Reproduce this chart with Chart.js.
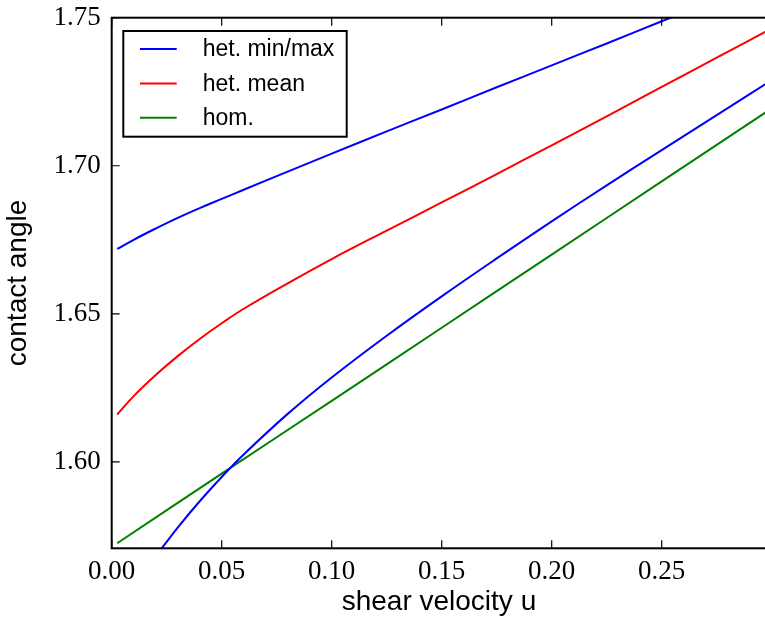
<!DOCTYPE html>
<html><head><meta charset="utf-8">
<script src="https://cdn.jsdelivr.net/npm/chart.js@4/dist/chart.umd.min.js"></script>
<style>html,body{margin:0;padding:0;overflow:hidden;background:#fff;width:765px;height:619px}
canvas{display:block}</style></head>
<body><canvas id="c" width="800" height="619"></canvas>
<script>
// ---- data ----
const xTicks = [0.00, 0.05, 0.10, 0.15, 0.20, 0.25];
const yTicks = [1.60, 1.65, 1.70, 1.75];
const xRange = [0, 0.2975];
const yRange = [1.5708, 1.75];

const maxU     = [0.0025, 0.01, 0.02, 0.03, 0.04, 0.05, 0.06, 0.08, 0.10, 0.125, 0.15, 0.175, 0.20, 0.225, 0.25, 0.275];
const maxTheta = [1.6719, 1.6750, 1.6788, 1.6824, 1.6857, 1.6888, 1.6919, 1.6980, 1.7041, 1.7116, 1.7190, 1.7265, 1.7339, 1.7413, 1.7488, 1.7562];

const minU     = [0.02, 0.03, 0.04, 0.05, 0.06, 0.08, 0.10, 0.125, 0.15, 0.175, 0.20, 0.225, 0.25, 0.275, 0.30];
const minTheta = [1.5681, 1.5778, 1.5867, 1.5949, 1.6025, 1.6162, 1.6285, 1.6426, 1.6559, 1.6687, 1.6812, 1.6934, 1.7053, 1.7171, 1.7289];

const meanU     = [0.0025, 0.01, 0.02, 0.03, 0.04, 0.05, 0.06, 0.08, 0.10, 0.125, 0.15, 0.175, 0.20, 0.225, 0.25, 0.275, 0.30];
const meanTheta = [1.6160, 1.6222, 1.6293, 1.6357, 1.6415, 1.6468, 1.6517, 1.6603, 1.6685, 1.6781, 1.6876, 1.6972, 1.7069, 1.7167, 1.7266, 1.7365, 1.7464];

const homU     = [0.0025, 0.05, 0.10, 0.15, 0.20, 0.25, 0.30];
const homTheta = [1.5725, 1.5960, 1.6206, 1.6453, 1.6700, 1.6947, 1.7194];

const legendLabels = ['het. min/max', 'het. mean', 'hom.'];
const legendColors = ['#0000ff', '#ff0000', '#008000'];
const xTitle = 'shear velocity u';
const yTitle = 'contact angle';

// ---- build ----
const pts = (xs, ys) => xs.map((x, i) => ({x: x, y: ys[i]}));
const ds = (xs, ys, color) => ({
  data: pts(xs, ys), borderColor: color, backgroundColor: color,
  borderWidth: 2, pointRadius: 0, showLine: true, fill: false,
  tension: 0.4
});

const framePlugin = {
  id: 'frame',
  afterDraw(chart) {
    const ctx = chart.ctx, a = chart.chartArea;
    const xs = chart.scales.x, ys = chart.scales.y;
    ctx.save();
    ctx.strokeStyle = '#000';
    ctx.lineWidth = 2;
    ctx.strokeRect(a.left, a.top, a.right - a.left, a.bottom - a.top);
    ctx.lineWidth = 1.2;
    const tl = 8;
    ctx.beginPath();
    xTicks.forEach(v => {
      const p = xs.getPixelForValue(v);
      ctx.moveTo(p, a.bottom); ctx.lineTo(p, a.bottom - tl);
      ctx.moveTo(p, a.top); ctx.lineTo(p, a.top + tl);
    });
    yTicks.forEach(v => {
      const p = ys.getPixelForValue(v);
      ctx.moveTo(a.left, p); ctx.lineTo(a.left + tl, p);
    });
    ctx.stroke();
    // legend
    const bx = a.left + 11.6, by = a.top + 13.3, bw = 223.4, bh = 105.7;
    ctx.fillStyle = '#fff';
    ctx.fillRect(bx, by, bw, bh);
    ctx.lineWidth = 2;
    ctx.strokeStyle = '#000';
    ctx.strokeRect(bx, by, bw, bh);
    ctx.font = '23px "Liberation Sans", Arial, sans-serif';
    ctx.textBaseline = 'middle';
    ctx.textAlign = 'left';
    legendLabels.forEach((lab, i) => {
      const yy = by + 18 + i * 34.4;
      ctx.strokeStyle = legendColors[i];
      ctx.lineWidth = 2;
      ctx.beginPath(); ctx.moveTo(bx + 16.7, yy); ctx.lineTo(bx + 53.4, yy); ctx.stroke();
      ctx.fillStyle = '#000';
      ctx.fillText(lab, bx + 79.4, yy + 1);
    });
    ctx.restore();
  }
};

new Chart(document.getElementById('c'), {
  type: 'scatter',
  data: { datasets: [
    ds(maxU, maxTheta, legendColors[0]),
    ds(minU, minTheta, legendColors[0]),
    ds(meanU, meanTheta, legendColors[1]),
    ds(homU, homTheta, legendColors[2])
  ]},
  options: {
    responsive: false, animation: false, devicePixelRatio: 1,
    layout: { padding: { top: 17.7, right: 33.8, left: 0, bottom: 0 } },
    plugins: { legend: { display: false }, tooltip: { enabled: false } },
    scales: {
      x: {
        type: 'linear', min: xRange[0], max: xRange[1],
        afterBuildTicks: s => { s.ticks = xTicks.map(v => ({value: v})); },
        afterFit: s => { s.height = 70.7; s.paddingLeft = 0; s.paddingRight = 0; },
        grid: { display: false, drawTicks: false },
        border: { display: false },
        ticks: { autoSkip: false, maxRotation: 0, padding: 7, color: '#000',
          font: { family: '"Liberation Serif", "Times New Roman", serif', size: 27 },
          callback: v => Number(v).toFixed(2) },
        title: { display: true, text: xTitle, color: '#000', padding: {top: 0, bottom: -0.5},
          font: { family: '"Liberation Sans", Arial, sans-serif', size: 28 } }
      },
      y: {
        type: 'linear', min: yRange[0], max: yRange[1],
        afterBuildTicks: s => { s.ticks = yTicks.map(v => ({value: v})); },
        afterFit: s => { s.width = 111.7; s.paddingTop = 0; s.paddingBottom = 0; },
        grid: { display: false, drawTicks: false },
        border: { display: false },
        ticks: { autoSkip: false, padding: 11, color: '#000',
          font: { family: '"Liberation Serif", "Times New Roman", serif', size: 27 },
          callback: v => Number(v).toFixed(2) },
        title: { display: true, text: yTitle, color: '#000', padding: {top: 1.5, bottom: 0},
          font: { family: '"Liberation Sans", Arial, sans-serif', size: 28 } }
      }
    }
  },
  plugins: [framePlugin]
});
</script>
</body></html>
